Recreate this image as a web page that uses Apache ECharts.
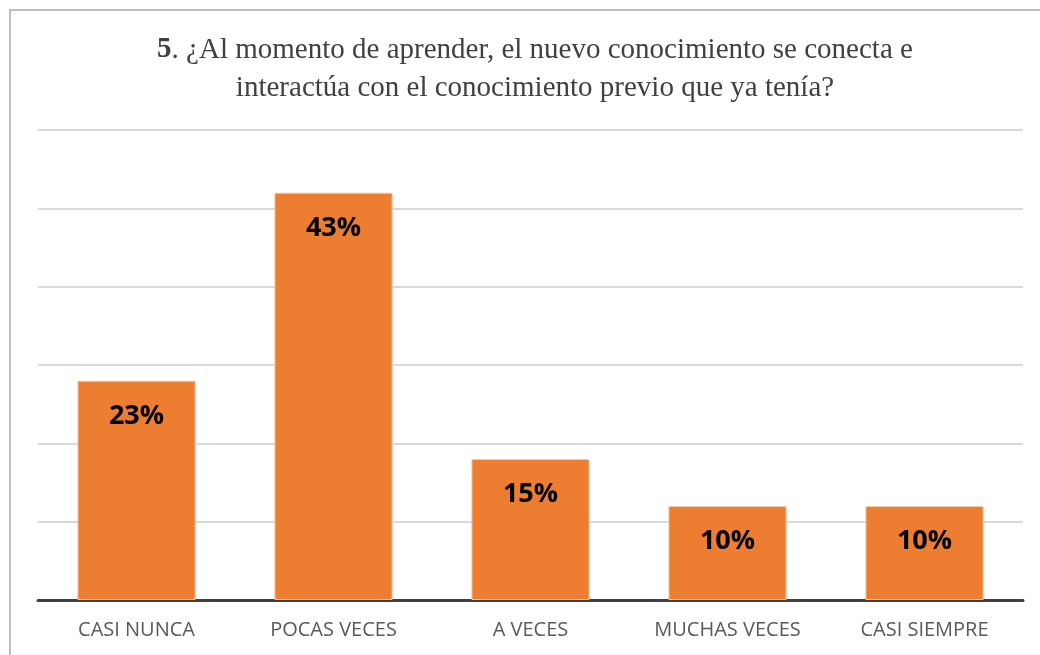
<!DOCTYPE html>
<html>
<head>
<meta charset="utf-8">
<script src="https://cdn.jsdelivr.net/npm/echarts@6/dist/echarts.min.js"></script>
<style>
html,body{margin:0;padding:0;background:#fff;}
#frame{position:absolute;left:9px;top:9px;width:1040px;height:660px;border:2px solid #bfbfbf;box-sizing:border-box;}
#c{position:absolute;left:0;top:0;width:1040px;height:655px;}
</style>
</head>
<body>
<div id="frame"></div>
<div id="c"></div>
<script>
const categories = ['CASI NUNCA', 'POCAS VECES', 'A VECES', 'MUCHAS VECES', 'CASI SIEMPRE'];
const counts = [14, 26, 9, 6, 6];
const percentLabels = ['23%', '43%', '15%', '10%', '10%'];
const titleBold = '5';
const titleRest = '. ¿Al momento de aprender, el nuevo conocimiento se conecta e';
const titleLine2 = 'interactúa con el conocimiento previo que ya tenía?';

const chart = echarts.init(document.getElementById('c'), null, {renderer: 'canvas'});
chart.setOption({
  animation: false,
  title: {
    text: '{b|' + titleBold + '}{n|' + titleRest + '}\n{n|' + titleLine2 + '}',
    left: 530,
    textAlign: 'center',
    top: 26,
    textStyle: {
      fontWeight: 'normal',
      rich: {
        b: {fontFamily: 'Liberation Serif', fontSize: 29, fontWeight: 'bold', color: '#404040', lineHeight: 38},
        n: {fontFamily: 'Liberation Serif', fontSize: 29, fontWeight: 'normal', color: '#404040', lineHeight: 38}
      }
    }
  },
  grid: {left: 38, right: 17, top: 130, bottom: 55, containLabel: false},
  xAxis: {
    type: 'category',
    data: categories,
    axisLine: {lineStyle: {color: '#404040', width: 3}},
    axisTick: {show: false},
    axisLabel: {color: '#595959', fontFamily: 'Open Sans', fontSize: 20, margin: 20}
  },
  yAxis: {
    type: 'value',
    min: 0, max: 30, interval: 5,
    axisLabel: {show: false},
    axisLine: {show: false},
    axisTick: {show: false},
    splitLine: {lineStyle: {color: '#d9d9d9', width: 2}}
  },
  series: [{
    type: 'bar',
    data: counts,
    barCategoryGap: '40%',
    itemStyle: {color: '#ED7D31', borderColor: '#f7c9a8', borderWidth: 1},
    label: {
      show: true,
      position: 'insideTop',
      distance: 22,
      formatter: p => percentLabels[p.dataIndex],
      fontFamily: 'Open Sans',
      fontWeight: 'bold',
      fontSize: 27,
      color: '#000'
    }
  }]
});
</script>
</body>
</html>
